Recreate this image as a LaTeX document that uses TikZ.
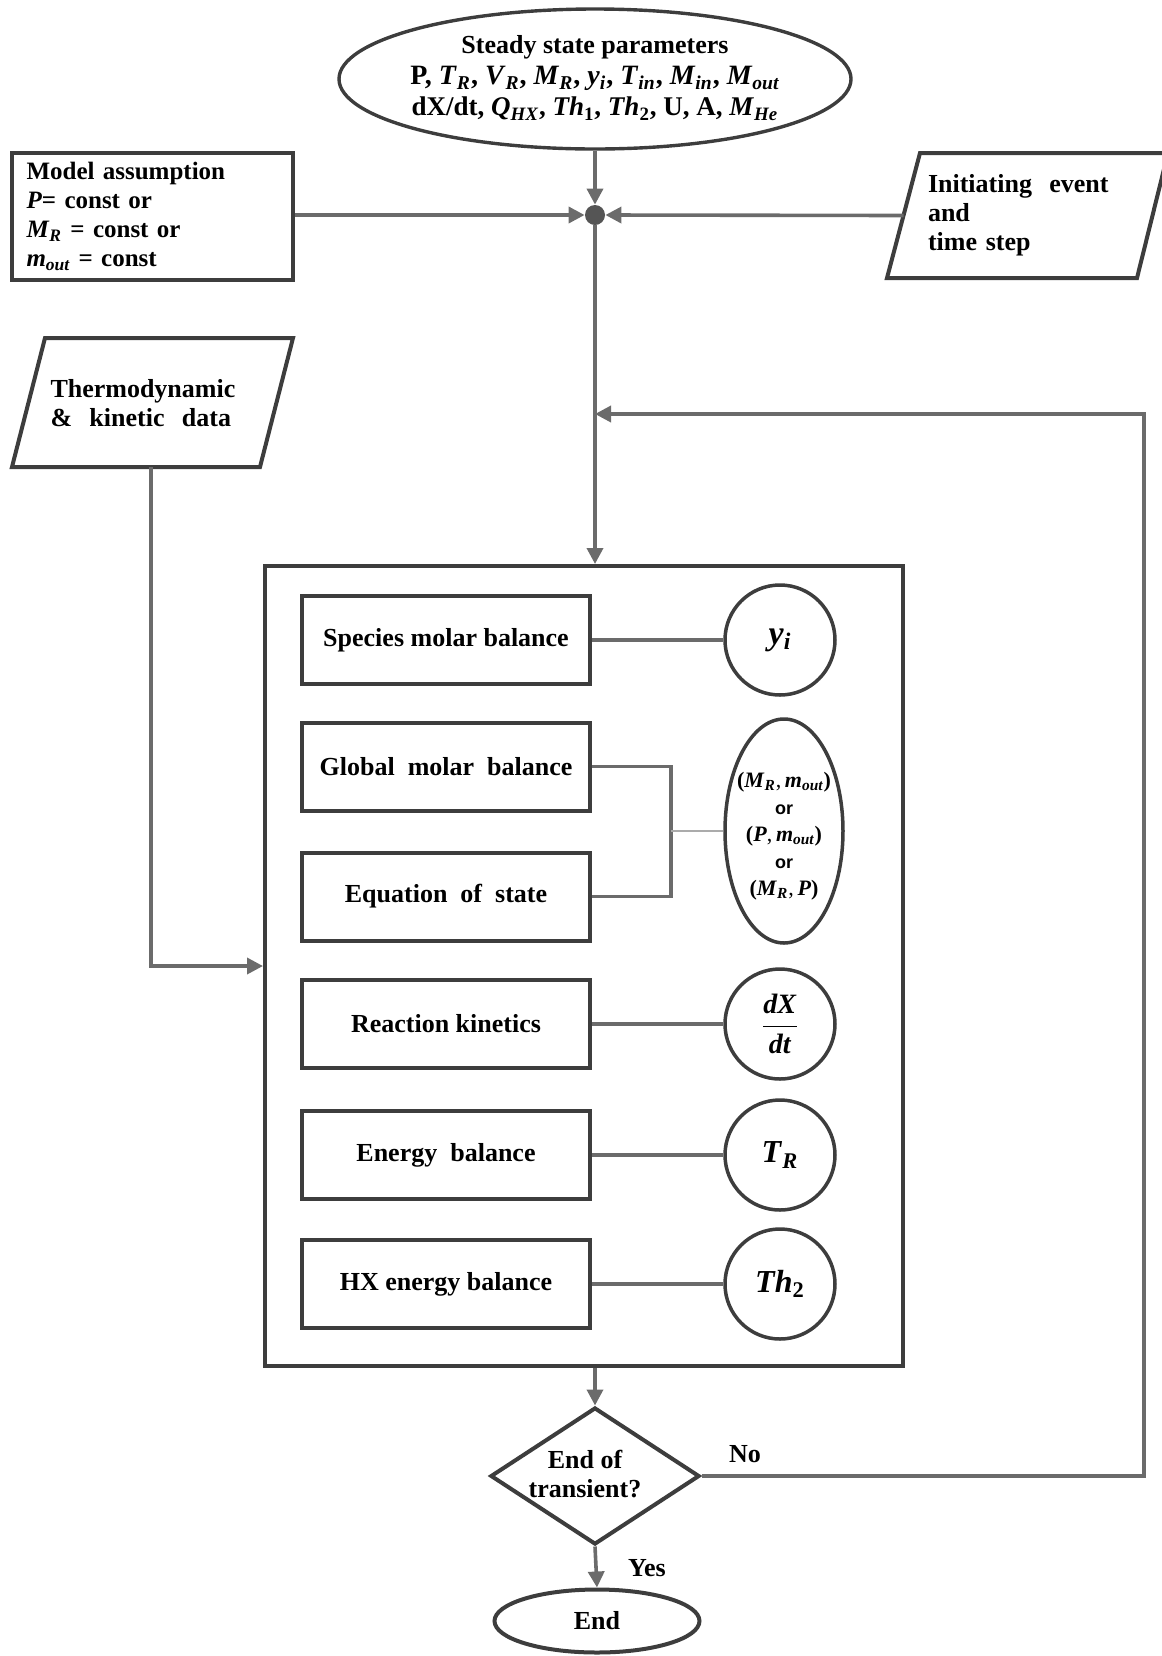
\documentclass[tikz,border=0pt]{standalone}
\usepackage{fontspec}
\setmainfont{Liberation Serif}
\newfontfamily\orfont{Liberation Sans}
\usetikzlibrary{arrows.meta,shapes.geometric,calc}

\definecolor{edgegray}{HTML}{3D3D3D}
\definecolor{linegray}{HTML}{6B6B6B}
\definecolor{thingray}{HTML}{ABABAB}
\definecolor{dotgray}{HTML}{555555}

\newcommand\diagfont{\fontsize{13}{14.5}\selectfont\bfseries}
% bold italic symbol with a bold italic (vb) or bold upright (vn) subscript
\newcommand\vb[2]{{\bfseries\itshape #1\/}\textsubscript{\bfseries\itshape #2}}
\newcommand\vn[2]{{\bfseries\itshape #1\/}\textsubscript{\bfseries #2}}
\newcommand\vi[1]{{\bfseries\itshape #1\/}}

\tikzset{
  x=0.5pt, y=-0.5pt,
  every node/.style={inner sep=0pt, text=black},
  frame/.style={draw=edgegray, line width=2pt},
  stepbox/.style={frame, rectangle, minimum width=144pt, minimum height=44pt, font=\diagfont},
  varcirc/.style={draw=edgegray, line width=1.75pt, circle, minimum size=55pt},
  conn/.style={draw=linegray, line width=1.8pt},
  arr/.style={conn, -{Triangle[length=8pt,width=8pt]}},
}

\begin{document}
\begin{tikzpicture}
\useasboundingbox (0,0) rectangle (1162,1656);

% start: steady state data
\node[ellipse, draw=edgegray, line width=1.7pt, minimum width=256pt, minimum height=70pt] (ss) at (595,79) {};
\node[align=center, font=\fontsize{13}{15.5}\selectfont\bfseries] (sstext) at (595,78)
  {Steady state parameters\\
   {\fontsize{14}{15.5}\selectfont P, \vb{T}{R}, \vb{V}{R}, \vb{M}{R}, \vb{y}{i}, \vb{T}{in}, \vb{M}{in}, \vb{M}{out}}\\
   {\fontsize{13.5}{15.5}\selectfont dX/dt, \vb{Q}{HX}, \vn{Th}{1}, \vn{Th}{2}, U, A, \vb{M}{He}}};

% merge point
\node[circle, fill=dotgray, minimum size=10pt] (dot) at (595,215) {};

% side inputs
\node[frame, rectangle, minimum width=140.5pt, minimum height=63.5pt, align=left,
      text width=126pt, font=\fontsize{12.5}{14.5}\selectfont\bfseries] (ma) at (152.5,216.5)
  {Model assumption\\
   \vi{P}= const or\\
   \vb{M}{R} = const or\\
   \vb{m}{out} = const};

% initiating event (parallelogram)
\coordinate (ieTL) at (920,153);
\coordinate (ieTR) at (1168,153);
\coordinate (ieBR) at (1137,278);
\coordinate (ieBL) at (887,278);
\coordinate (ieW) at (903.5,215.5);
\draw[frame, line join=miter] (ieTL) -- (ieTR) -- (ieBR) -- (ieBL) -- cycle;
\node[align=left, text width=100pt, font=\diagfont] (ie) at (1028,215.5)
  {Initiating\ \ event\\and\\time step};

% thermodynamic data (parallelogram)
\coordinate (tdTL) at (45,338);
\coordinate (tdTR) at (293,338);
\coordinate (tdBR) at (260,467);
\coordinate (tdBL) at (12,467);
\coordinate (tdS) at (151,467);
\draw[frame, line join=miter] (tdTL) -- (tdTR) -- (tdBR) -- (tdBL) -- cycle;
\node[align=left, text width=102pt, font=\diagfont] (td) at (152.5,403)
  {Thermodynamic\\\&\ \ kinetic\ \ data};

% solver block
\node[frame, rectangle, minimum width=319pt, minimum height=400pt] (big) at (584,966) {};

\node[stepbox] (sp) at (446,640)    {Species molar balance};
\node[stepbox] (gl) at (446,766.5)  {Global\ \ molar\ \ balance};
\node[stepbox] (eq) at (446,896.5)  {Equation\ \ of\ \ state};
\node[stepbox] (rk) at (446,1024)   {Reaction kinetics};
\node[stepbox] (eb) at (446,1155)   {Energy\ \ balance};
\node[stepbox] (hx) at (446,1284)   {HX energy balance};

\node[varcirc, font=\fontsize{17}{20}\selectfont] (cy)  at (780,640)  {\vb{y}{i}};
\node[varcirc, font=\fontsize{14}{17}\selectfont] (cdx) at (780,1024)
  {$\displaystyle\frac{\mbox{\vi{dX}}}{\mbox{\vi{dt}}}$};
\node[varcirc, font=\fontsize{16}{19}\selectfont] (ctr) at (780,1155) {\vb{T}{R}};
\node[varcirc, font=\fontsize{16}{19}\selectfont] (cth) at (780,1284) {\vn{Th}{2}};

\node[ellipse, draw=edgegray, line width=1.75pt, minimum width=59pt, minimum height=112pt] (el) at (784,831) {};
\node[align=center, font=\fontsize{11}{13.5}\selectfont] (eltext) at (784,836)
  {{\bfseries(}\vb{M}{R},\,\vb{m}{out}{\bfseries)}\\{\orfont\bfseries\fontsize{9}{13.5}\selectfont or}\\
   {\bfseries(}\vi{P},\,\vb{m}{out}{\bfseries)}\\{\orfont\bfseries\fontsize{9}{13.5}\selectfont or}\\
   {\bfseries(}\vb{M}{R},\,\vi{P}{\bfseries)}};

% end test
\node[diamond, draw=edgegray, line width=2pt, minimum width=104.5pt, minimum height=68.5pt] (dec) at (595,1476) {};
\node[align=center, font=\diagfont] (dectext) at (585,1474) {End of\\transient?};
\node[ellipse, draw=edgegray, line width=2pt, minimum width=102.5pt, minimum height=31.5pt,
      font=\fontsize{13}{16}\selectfont\bfseries] (endn) at (597,1621) {End};

\node[font=\diagfont] (nolab) at (745,1454) {No};
\node[font=\diagfont] (yeslab) at (647,1568) {Yes};

\coordinate (loopc) at (1144,414);
\coordinate (brk) at (671,831);

% connectors
\draw[arr] (ss.south -| dot) -- (dot.north);
\draw[arr] (ma.east |- dot) -- (dot.west);
\draw[arr] (ieW) -- (dot.east);
\draw[arr] (dot.south) -- (dot |- big.north);
\draw[arr] (tdS) |- (big.west);
\draw[arr] (dot |- big.south) -- (dec.north);
\draw[arr] (dec.south) -- (endn.north);
\draw[arr] (dec.east) -| (loopc) -- (loopc -| dot);

\draw[conn] (sp.east) -- (cy.west);
\draw[conn] (rk.east) -- (cdx.west);
\draw[conn] (eb.east) -- (ctr.west);
\draw[conn] (hx.east) -- (cth.west);
\draw[conn] (gl.east) -| (brk) |- (eq.east);
\draw[draw=thingray, line width=0.8pt] (brk) -- (el.west);
\end{tikzpicture}
\end{document}
